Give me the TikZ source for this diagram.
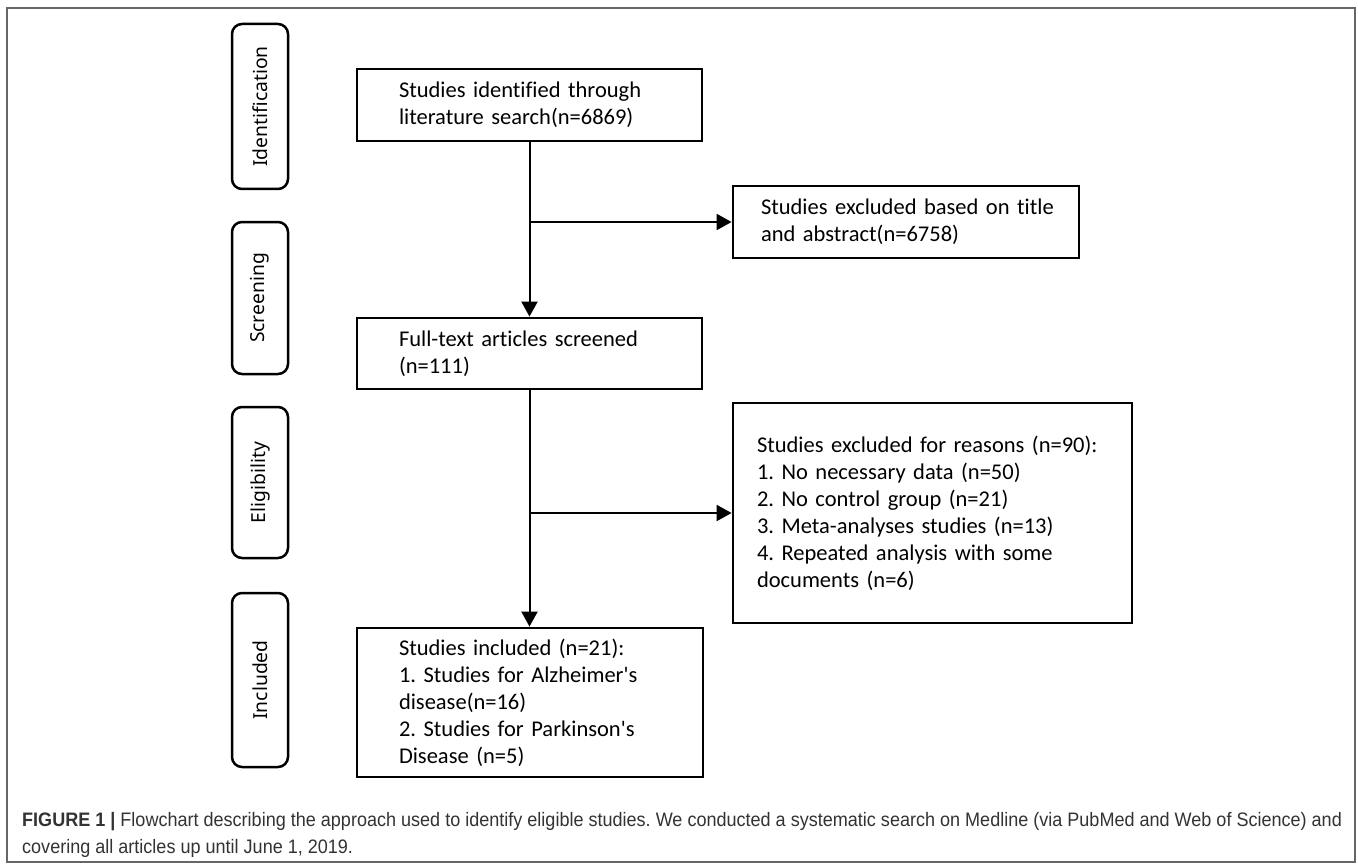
\documentclass[tikz,border=0pt]{standalone}
\usepackage{fontspec}
\usetikzlibrary{arrows.meta}
\newfontfamily\boxfont[Ligatures={NoCommon},WordSpace={0.85,0,0}]{Carlito}
\newfontfamily\stagefont{Noto Sans}
\newfontfamily\capfont[FakeStretch=0.925]{Liberation Sans}
\frenchspacing
\begin{document}
\begin{tikzpicture}[x=1pt,y=-1pt,
  stage/.style={draw, line width=2.5pt, rounded corners=10pt, rotate=90,
    minimum height=56pt, inner sep=0pt,
    font=\stagefont\fontsize{19.3}{24}\selectfont},
  flowbox/.style={draw, line width=2.8pt, rectangle, inner ysep=0pt,
    align=left, font=\boxfont\fontsize{22.5}{27}\selectfont},
  conn/.style={line width=2pt, -{Triangle[width=16pt,length=15pt]}},
  capstyle/.style={anchor=base west, inner sep=0pt, text=black!80,
    font=\capfont\fontsize{19.5}{27}\selectfont}
]
\useasboundingbox (0,0) rectangle (1358,864);
\fill[white] (0,0) rectangle (1358,864);
\draw[black!60, line width=1.5pt] (7,8) rectangle (1355,862);

% stage labels
\node[stage, minimum width=165pt] (idn) at (260,106.5) {Identification};
\node[stage, minimum width=152pt] (scr) at (260,298) {Screening};
\node[stage, minimum width=151pt] (elg) at (260,482.5) {Eligibility};
\node[stage, minimum width=174pt] (inl) at (260,680) {Included};

% boxes
\node[flowbox, minimum height=72pt, inner xsep=42pt, text width=261pt] (b1) at (529.5,105)
  {\mbox{Studies identified through}\\\mbox{literature search(n=6869)}};
\node[flowbox, minimum height=71pt, inner xsep=42pt, text width=261pt] (ft) at (529.5,353.5)
  {\mbox{Full-text articles screened}\\\mbox{(n=111)}};
\node[flowbox, minimum height=149pt, inner xsep=42pt, text width=262pt] (incb) at (530,702.5)
  {\mbox{Studies included (n=21):}\\\mbox{1. Studies for Alzheimer's}\\\mbox{disease(n=16)}\\\mbox{2. Studies for Parkinson's}\\\mbox{Disease (n=5)}};
\node[flowbox, minimum height=72pt, inner xsep=28pt, text width=290pt] (ex1) at (906,222)
  {\mbox{Studies excluded based on title}\\\mbox{and abstract(n=6758)}};
\node[flowbox, minimum height=220pt, inner xsep=24pt, text width=351pt] (ex2) at (932.5,513)
  {\mbox{Studies excluded for reasons (n=90):}\\\mbox{1. No necessary data (n=50)}\\\mbox{2. No control group (n=21)}\\\mbox{3. Meta-analyses studies (n=13)}\\\mbox{4. Repeated analysis with some}\\\mbox{documents (n=6)}};

% connectors
\coordinate (j1) at (b1.south |- ex1.west);
\coordinate (j2) at (ft.south |- ex2.west);
\draw[conn] (b1.south) -- (ft.north);
\draw[conn] (ft.south) -- (ft.south |- incb.north);
\draw[conn] (j1) -- (ex1.west);
\draw[conn] (j2) -- (ex2.west);

% caption
\node[capstyle] (cap1) at (22,826) {\textbf{FIGURE 1 |} Flowchart describing the approach used to identify eligible studies. We conducted a systematic search on Medline (via PubMed and Web of Science) and};
\node[capstyle] (cap2) at (22,853) {covering all articles up until June 1, 2019.};
\end{tikzpicture}
\end{document}
